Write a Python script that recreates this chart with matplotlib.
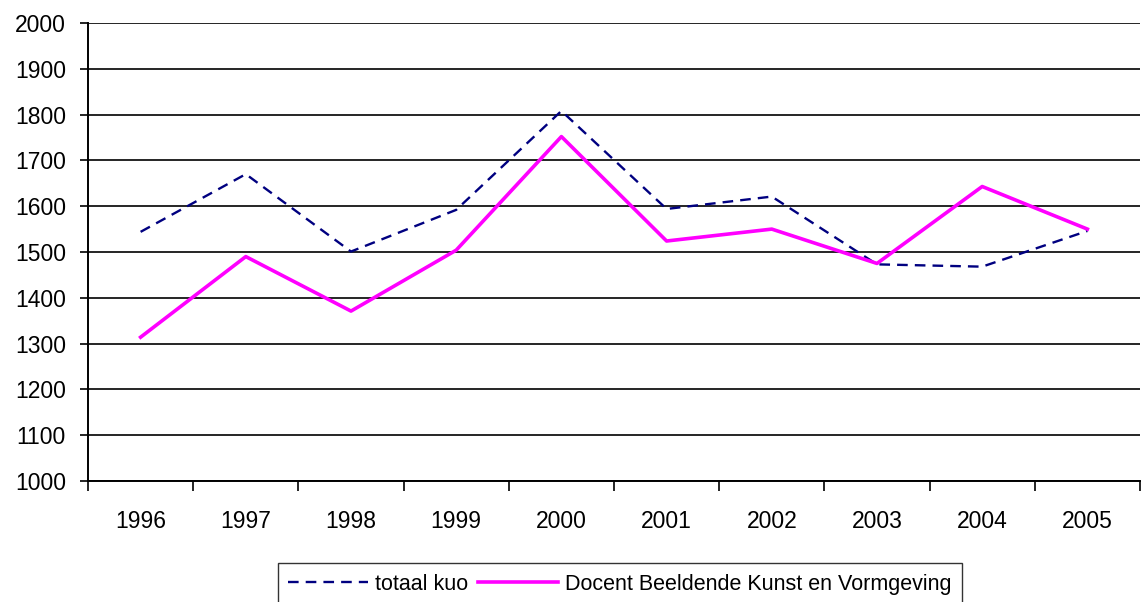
import numpy as np
import matplotlib.pyplot as plt

plt.rcParams['font.family'] = ['Liberation Sans', 'DejaVu Sans']

# Data
years = ['1996', '1997', '1998', '1999', '2000', '2001', '2002', '2003', '2004', '2005']
totaal_kuo = [1544, 1670, 1501, 1592, 1808, 1594, 1621, 1473, 1468, 1546]
docent_bkv = [1314, 1490, 1371, 1504, 1752, 1524, 1550, 1475, 1643, 1550]

fig = plt.figure(figsize=(11.44, 6.02), dpi=100)
ax = fig.add_axes([88 / 1144, 1 - 481 / 602, (1140 - 88) / 1144, (481 - 23) / 602])

x = np.arange(len(years))
ax.plot(x, totaal_kuo, color='#000080', lw=1.7, ls=(0, (4.5, 3)), label='totaal kuo')
ax.plot(x, docent_bkv, color='#FF00FF', lw=2.6, label='Docent Beeldende Kunst en Vormgeving')

# Axes styling
ax.set_xlim(-0.5, len(years) - 0.5)
ax.set_ylim(1000, 2000)
ax.set_yticks(np.arange(1000, 2001, 100))
ax.yaxis.grid(True, color='black', lw=1.2)
ax.set_axisbelow(True)
for s in ['top', 'right']:
    ax.spines[s].set_visible(False)
for s in ['left', 'bottom']:
    ax.spines[s].set_linewidth(1.4)
ax.tick_params(axis='y', length=6, width=1.2, pad=10, labelsize=16.5)

# category ticks sit between the years
ax.set_xticks(np.arange(-0.5, len(years), 1.0))
ax.set_xticklabels([])
ax.set_xticks(x, minor=True)
ax.set_xticklabels(years, minor=True)
ax.tick_params(axis='x', which='major', length=7, width=1.2)
ax.tick_params(axis='x', which='minor', length=0, pad=21, labelsize=16.5)

leg = fig.legend(loc='upper center', bbox_to_anchor=(620 / 1144, 1 - 563 / 602),
                 ncol=2, fontsize=15.5, frameon=True, fancybox=False,
                 edgecolor='black', handlelength=3.7, handletextpad=0.33,
                 columnspacing=0.47, borderpad=0.5, borderaxespad=0)
leg.get_frame().set_linewidth(1.0)

fig.savefig('out.png', dpi=100)
